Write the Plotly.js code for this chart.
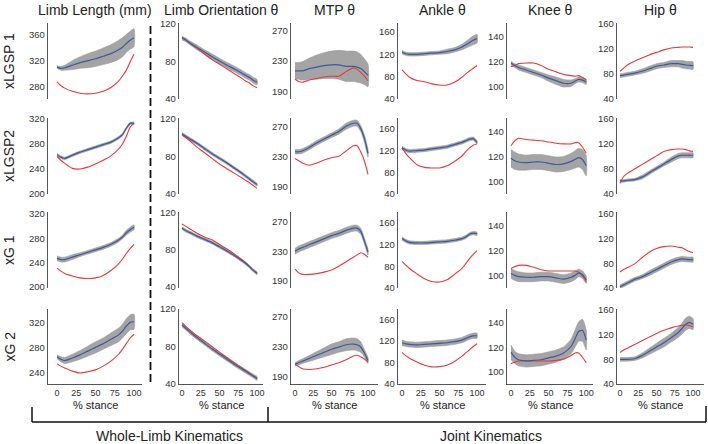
<!DOCTYPE html>
<html><head><meta charset="utf-8">
<script src="https://cdn.plot.ly/plotly-3.0.1.min.js"></script>
<style>html,body{margin:0;padding:0;background:#fff}#chart{width:708px;height:444px}</style>
</head><body><div id="chart"></div>
<script>
// ---------------- DATA ----------------
const stance = [0,5,10,20,30,40,50,60,70,80,85,90,95,100];
const xTicks = [0,25,50,75,100];
const rowLabels = ['xLGSP 1','xLGSP2','xG 1','xG 2'];
const colTitles = ['Limb Length (mm)','Limb Orientation θ','MTP θ','Ankle θ','Knee θ','Hip θ'];
const groupLabels = ['Whole-Limb Kinematics','Joint Kinematics'];
const xLabel = '% stance';

// Row 1 : xLGSP 1
const r1_len_mean = [310,308,309,313,317,320,323,327,331,337,341,347,352,356];
const r1_len_sd   = [2,3,4,7,9,11,12,13,14,15,15,14,14,14];
const r1_len_red  = [287,281,277,272,269,268,269,272,278,288,296,305,318,330];
const r1_ori_mean = [105,103,100,95,90,85,80.5,76,72,67.5,65,63,60,58];
const r1_ori_sd   = [2,2,2,2.5,2.5,3,3,3,3,3,3,3,3,3];
const r1_ori_red  = [106,103,100,94,88,82,77,72,67,62,59,57,54,52];
const r1_mtp_mean = [217,217,217,220,222,224,225,225,223,223,222,220,216,211];
const r1_mtp_sd   = [11,11,12,14,16,17,18,19,20,20,20,19,17,15];
const r1_mtp_red  = [206,203,202,205,207,209,210,210,216,221,219,215,210,204];
const r1_ank_mean = [124,121,120,120,121,122,123,125,128,133,137,141,145,148];
const r1_ank_sd   = [3,3,3,3,3,3,3,4,4,5,6,7,8,8];
const r1_ank_red  = [92,85,79,73,71,67,65,65,70,79,85,90,95,100];
const r1_kne_mean = [119,117,115.5,113.5,111.5,109.5,107,105,103,103,104.5,106,105.5,104];
const r1_kne_sd   = [1.5,1.5,2,2,2,2,2.5,3,3,2.5,2,2,2,2];
const r1_kne_red  = [116,117,118.5,119,119,117,114,112,110,109,108.5,109,107.5,105.5];
const r1_hip_mean = [77,78,79,81,84,88,92,94,96,96,95,94,93.5,93];
const r1_hip_sd   = [3,3,3,3,3.5,4,4,4,5,5,6,6,6,6];
const r1_hip_red  = [84,89,94,100,105,110,114,118,121,122,122.5,122.5,122.5,122];

// Row 2 : xLGSP2
const r2_len_mean = [263,259,257,262,267,271,275,279,283,290,295,305,313,313];
const r2_len_sd   = [2,2,2,2,2,2,2,2,2,2,2,2,2,2];
const r2_len_red  = [260,254,249,241,240,243,248,254,261,272,280,292,307,313];
const r2_ori_mean = [104,101.5,99,94,88.5,83,78,73,67.5,62,59,56,53,50];
const r2_ori_sd   = [1.5,1.5,1.5,1.5,1.5,1.5,1.5,1.5,1.5,1.5,1.5,1.5,1.5,1.5];
const r2_ori_red  = [103,100,97,90,84,78,72,67,62,57,54.5,52,49,46];
const r2_mtp_mean = [237,237,238,243,249,254,259,264,271,275,275,268,255,235];
const r2_mtp_sd   = [3,3,3,3,3,3,3,3.5,4,4,4,4,5,5];
const r2_mtp_red  = [228,225,222,219,222,226,229,231,238,245,245,237,225,207];
const r2_ank_mean = [125,121,119,120,121,123,125,127,131,135,138,141,142,135];
const r2_ank_sd   = [3,3,3,3,3,3,3,3,3,3,3,3,3,3];
const r2_ank_red  = [125,115,107,94,89,88,88,92,100,110,118,125,130,132];
const r2_kne_mean = [119,117,116,115.5,116,116,115,114,114.5,116.5,118,119.5,118,113];
const r2_kne_sd   = [7,7,6.5,6,6,6,6,6,6,6.5,7,7.5,8,8];
const r2_kne_red  = [129,133,135,134,133.5,133,132,131,130.5,130.5,131.5,131.5,128,123];
const r2_hip_mean = [61,61,62,63,67,74,81,88,95,101,102,102,102,102];
const r2_hip_sd   = [2,2,2,2,3,3,3,3,4,4,4,4,4,4];
const r2_hip_red  = [57,68,73,80,87,94,101,108,111,112,112,111,109,108];

// Row 3 : xG 1
const r3_len_mean = [247,245,245,249,253,257,261,265,270,277,282,289,294,298];
const r3_len_sd   = [4,4,4,4,3,3,3,3,3,3,3,4,4,4];
const r3_len_red  = [231,226,222,218,215,214,215,219,227,238,246,255,263,270];
const r3_ori_mean = [103.5,101,99,95,91.5,88,83.5,79,74,68.5,65.5,62,58,55];
const r3_ori_sd   = [1.5,1.5,1.5,1.5,1.5,1.5,1.5,1.5,1.5,1.5,1.5,1.5,1.5,1.5];
const r3_ori_red  = [108,105.5,103,98,94,91,86,81,75.5,69.5,66,62,58,55];
const r3_mtp_mean = [230,233,235,239,243,247,251,254,258,261,261,257,244,229];
const r3_mtp_sd   = [4,4,4,4,4,4,4,4,4,4,4,4,4,4];
const r3_mtp_red  = [206,201,199,199,200,202,205,210,216,222,225,228,226,222];
const r3_ank_mean = [131,127,124,123,123,124,125,126,128,131,134,139,141,140];
const r3_ank_sd   = [3,3,3,3,3,3,3,3,3,3,3,3,3,3];
const r3_ank_red  = [89,82,76,66,57,52,51,55,65,76,85,94,102,109];
const r3_kne_mean = [102,100.5,99.5,99,99,99.5,99.5,98.5,97.5,99,100.5,102.5,101,97];
const r3_kne_sd   = [4,4,4,3.5,3.5,3.5,3.5,3.5,3.5,3.5,3.5,3,3,3];
const r3_kne_red  = [106,107.5,108.5,108.5,107,105,104,104,104,104,104,103,100,95.5];
const r3_hip_mean = [42,45,48,54,58,64,70,76,82,86,87,86.5,86,86];
const r3_hip_sd   = [3,3,3,3,3,4,4,4,4,4,4,4,4,4];
const r3_hip_red  = [66,70,73,79,89,98,104,107,108,106,105,102,99,97];

// Row 4 : xG 2
const r4_len_mean = [266,262,260,264,269,275,281,287,294,301,307,315,321,322];
const r4_len_sd   = [3,4,5,6,7,8,9,9,10,11,11,12,12,12];
const r4_len_red  = [255,251,248,243,240,242,245,251,259,270,278,287,296,302];
const r4_ori_mean = [103,99.5,96,89.5,83.5,77.5,72,66.5,61,56,53.5,51,48.5,46];
const r4_ori_sd   = [2,2,2,2,2,2,2,2,2,2,2,2,2,2];
const r4_ori_red  = [105.5,101.5,98,91.5,86,80,74,68,62.5,57,54.5,51.5,48.5,46];
const r4_mtp_mean = [207,209,211,215,219,223,227,230,233,234,233,230,222,212];
const r4_mtp_sd   = [2,3,3,4,5,6,7,7,8,8,8,7,5,4];
const r4_mtp_red  = [207,204,201,200,201,203,206,209,213,218,219,217,214,210];
const r4_ank_mean = [117,115,114,113,114,115,116,117,119,122,125,128,130,130];
const r4_ank_sd   = [5,5,5,5,5,5,5,5,5,5,5,5,5,5];
const r4_ank_red  = [99,93,88,81,75,72,72.5,75,82,92,98,104,110,115];
const r4_kne_mean = [116,112,110,109,109.5,110,111.5,113,115.5,121,127,133,134,126];
const r4_kne_sd   = [6,5,5,5,5,5,5,5,5,6,7,8,9,8];
const r4_kne_red  = [107,108,109,109,109,109,109,109.5,110.5,113.5,115.5,115.5,112,107.5];
const r4_hip_mean = [80,80,80,81,86,93,100,107,115,124,130,137,140,137];
const r4_hip_sd   = [3,3,3,3,4,5,6,7,7,8,9,10,10,9];
const r4_hip_red  = [91,95,98,104,110,116,122,127,131,134,135,136,135,133];

// y tick labels per column (Limb Length differs per row)
const lenTicks = [[280,320,360],[200,240,280,320],[200,240,280,320],[240,280,320]];
const oriTicks = [40,80,120];
const mtpTicks = [190,230,270];
const ankTicks = [40,80,120,160];
const kneTicks = [100,120,140];
const hipTicks = [40,80,120,160];

// ---------------- BUILD ----------------
const panels = [
  [[r1_len_mean,r1_len_sd,r1_len_red],[r1_ori_mean,r1_ori_sd,r1_ori_red],[r1_mtp_mean,r1_mtp_sd,r1_mtp_red],[r1_ank_mean,r1_ank_sd,r1_ank_red],[r1_kne_mean,r1_kne_sd,r1_kne_red],[r1_hip_mean,r1_hip_sd,r1_hip_red]],
  [[r2_len_mean,r2_len_sd,r2_len_red],[r2_ori_mean,r2_ori_sd,r2_ori_red],[r2_mtp_mean,r2_mtp_sd,r2_mtp_red],[r2_ank_mean,r2_ank_sd,r2_ank_red],[r2_kne_mean,r2_kne_sd,r2_kne_red],[r2_hip_mean,r2_hip_sd,r2_hip_red]],
  [[r3_len_mean,r3_len_sd,r3_len_red],[r3_ori_mean,r3_ori_sd,r3_ori_red],[r3_mtp_mean,r3_mtp_sd,r3_mtp_red],[r3_ank_mean,r3_ank_sd,r3_ank_red],[r3_kne_mean,r3_kne_sd,r3_kne_red],[r3_hip_mean,r3_hip_sd,r3_hip_red]],
  [[r4_len_mean,r4_len_sd,r4_len_red],[r4_ori_mean,r4_ori_sd,r4_ori_red],[r4_mtp_mean,r4_mtp_sd,r4_mtp_red],[r4_ank_mean,r4_ank_sd,r4_ank_red],[r4_kne_mean,r4_kne_sd,r4_kne_red],[r4_hip_mean,r4_hip_sd,r4_hip_red]]
];

const W = 708, H = 444;
const fx = p => p / W;
const fy = p => 1 - p / H;

const colPx = [[48,142],[179,263],[291,378],[398,486],[507,593],[617,704]];
const colRange = [[-11.7,110.4],[-4,108],[-5.5,113.7],[-5.3,112],[-5.3,109],[-4.1,115]];
const rowPx = [[23,99],[118,194],[212,288],[309,384]];
const yRanges = [
  [[260,379],[40,121],[180,280],[40,176],[90.5,150.7],[40,160.6]],
  [[200,321.6],[40,121],[180.7,282],[40,180],[90.4,151.2],[40,161.6]],
  [[198.4,323],[39,121],[180.7,282.7],[40,180],[90.4,151.2],[40,163]],
  [[222.4,342.4],[40,120],[180.7,280.7],[40,180],[90.2,151.4],[40,161.6]]
];
const colTicks = r => [lenTicks[r], oriTicks, mtpTicks, ankTicks, kneTicks, hipTicks];

const FONT = 'Arial, "Liberation Sans", sans-serif';
const traces = [];
const layout = {
  width: W, height: H, margin: {l:0,r:0,t:0,b:0},
  paper_bgcolor: '#fff', plot_bgcolor: 'rgba(0,0,0,0)',
  showlegend: false, font: {family: FONT, color: '#333'},
  annotations: [], shapes: []
};

for (let r = 0; r < 4; r++) {
  for (let c = 0; c < 6; c++) {
    const idx = r * 6 + c + 1;
    const xa = 'x' + idx, ya = 'y' + idx;
    const [mean, sd, red] = panels[r][c];
    const upper = mean.map((m, i) => m + sd[i]);
    const lower = mean.map((m, i) => m - sd[i]);
    traces.push({
      x: stance.concat(stance.slice().reverse()),
      y: upper.concat(lower.slice().reverse()),
      xaxis: xa, yaxis: ya, mode: 'lines', fill: 'toself',
      fillcolor: '#a4a4a4', line: {width: 0.6, color: '#9a9a9a', shape: 'spline', smoothing: 0.6},
      hoverinfo: 'skip'
    });
    traces.push({x: stance, y: red, xaxis: xa, yaxis: ya, mode: 'lines',
      line: {color: '#e8393b', width: 1.1, shape: 'spline', smoothing: 0.6}});
    traces.push({x: stance, y: mean, xaxis: xa, yaxis: ya, mode: 'lines',
      line: {color: '#3c5a9e', width: 1.2, shape: 'spline', smoothing: 0.6}});

    const bottom = (r === 3);
    layout['xaxis' + idx] = {
      domain: [fx(colPx[c][0]), fx(colPx[c][1])], range: colRange[c], anchor: ya,
      visible: bottom, showgrid: false, zeroline: false, showline: bottom,
      linecolor: '#555', linewidth: 1.2, ticks: '', tickvals: xTicks,
      tickfont: {size: 9, color: '#333', family: FONT}, fixedrange: true
    };
    layout['yaxis' + idx] = {
      domain: [fy(rowPx[r][1]), fy(rowPx[r][0])], range: yRanges[r][c], anchor: xa,
      showgrid: false, zeroline: false, showline: true, linecolor: '#555', linewidth: 1.2,
      ticks: '', tickvals: colTicks(r)[c], tickfont: {size: 9.5, color: '#333', family: FONT},
      fixedrange: true
    };
    if (bottom) {
      layout.annotations.push({xref: 'paper', yref: 'paper',
        x: fx((colPx[c][0] + colPx[c][1]) / 2), y: fy(404.5), text: xLabel, showarrow: false,
        xanchor: 'center', yanchor: 'middle', font: {size: 11, color: '#222', family: FONT}});
    }
  }
  layout.annotations.push({xref: 'paper', yref: 'paper', x: fx(9), y: fy((rowPx[r][0] + rowPx[r][1]) / 2),
    text: rowLabels[r], textangle: -90, showarrow: false, xanchor: 'center', yanchor: 'middle',
    font: {size: 14, color: '#222', family: FONT}});
}
for (let c = 0; c < 6; c++) {
  layout.annotations.push({xref: 'paper', yref: 'paper', x: fx((colPx[c][0] + colPx[c][1]) / 2), y: fy(10),
    text: colTitles[c], showarrow: false, xanchor: 'center', yanchor: 'middle',
    font: {size: 14, color: '#222', family: FONT}});
}
layout.annotations.push({xref: 'paper', yref: 'paper', x: fx(169), y: fy(436), text: groupLabels[0],
  showarrow: false, xanchor: 'center', yanchor: 'middle', font: {size: 14, color: '#222', family: FONT}});
layout.annotations.push({xref: 'paper', yref: 'paper', x: fx(491), y: fy(436), text: groupLabels[1],
  showarrow: false, xanchor: 'center', yanchor: 'middle', font: {size: 14, color: '#222', family: FONT}});

// dashed separator and bracket
layout.shapes.push({type: 'line', xref: 'paper', yref: 'paper', x0: fx(150.5), x1: fx(150.5), y0: fy(26), y1: fy(384),
  line: {color: '#111', width: 1.8, dash: '8px,4px'}});
const br = {color: '#111', width: 1.5};
layout.shapes.push({type: 'line', xref: 'paper', yref: 'paper', x0: fx(32), x1: fx(706), y0: fy(422), y1: fy(422), line: br});
layout.shapes.push({type: 'line', xref: 'paper', yref: 'paper', x0: fx(32), x1: fx(32), y0: fy(407), y1: fy(422), line: br});
layout.shapes.push({type: 'line', xref: 'paper', yref: 'paper', x0: fx(268), x1: fx(268), y0: fy(407), y1: fy(422), line: br});
layout.shapes.push({type: 'line', xref: 'paper', yref: 'paper', x0: fx(706), x1: fx(706), y0: fy(406), y1: fy(422), line: br});

Plotly.newPlot('chart', traces, layout, {displayModeBar: false, staticPlot: true});
</script>
</body></html>
